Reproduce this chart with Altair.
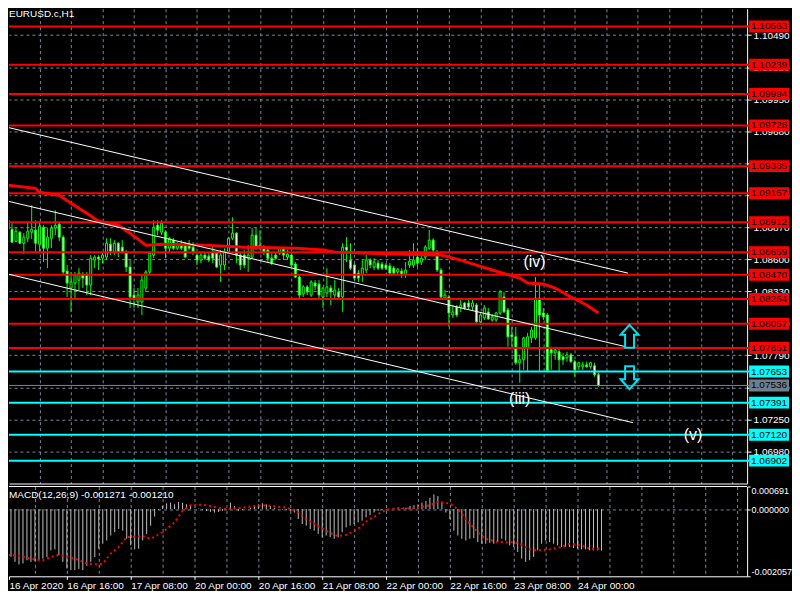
import altair as alt
import pandas as pd

FONT = "Liberation Sans"
GRID = "#778899"
GREEN = "#00FF00"

symbol_title = "EURUSD.c,H1"
macd_title = "MACD(12,26,9) -0.001271 -0.001210"

opens = [1.08929, 1.08853, 1.08752, 1.08828, 1.08735, 1.08777, 1.08828, 1.08845, 1.08727, 1.08870,
         1.08693, 1.08777, 1.08862, 1.08895, 1.08786, 1.08500, 1.08357, 1.08399, 1.08424, 1.08467,
         1.08467, 1.08382, 1.08593, 1.08618, 1.08609, 1.08618, 1.08727, 1.08660, 1.08735, 1.08702,
         1.08651, 1.08534, 1.08298, 1.08240, 1.08240, 1.08357, 1.08492, 1.08635, 1.08887, 1.08828,
         1.08828, 1.08693, 1.08761, 1.08693, 1.08719, 1.08727, 1.08727, 1.08702, 1.08635, 1.08593,
         1.08635, 1.08626, 1.08660, 1.08651, 1.08551, 1.08551, 1.08660, 1.08777, 1.08820, 1.08635,
         1.08635, 1.08609, 1.08618, 1.08803, 1.08693, 1.08693, 1.08677, 1.08609, 1.08635, 1.08651,
         1.08693, 1.08618, 1.08635, 1.08559, 1.08450, 1.08307, 1.08366, 1.08298, 1.08399, 1.08391,
         1.08282, 1.08315, 1.08357, 1.08298, 1.08324, 1.08282, 1.08702, 1.08593, 1.08551, 1.08483,
         1.08467, 1.08509, 1.08593, 1.08534, 1.08567, 1.08559, 1.08551, 1.08542, 1.08525, 1.08492,
         1.08500, 1.08467, 1.08551, 1.08551, 1.08618, 1.08576, 1.08618, 1.08693, 1.08761, 1.08651,
         1.08509, 1.08273, 1.08282, 1.08130, 1.08198, 1.08189, 1.08231, 1.08231, 1.08198, 1.08214,
         1.08072, 1.08105, 1.08156, 1.08088, 1.08088, 1.08147, 1.08282, 1.08172, 1.07962, 1.07946,
         1.07727, 1.07752, 1.07853, 1.07937, 1.07937, 1.08273, 1.08147, 1.08130, 1.07836, 1.07811,
         1.07820, 1.07778, 1.07769, 1.07794, 1.07736, 1.07694, 1.07694, 1.07710, 1.07694, 1.07702,
         1.07626]
highs = [1.09030, 1.08904, 1.08870, 1.08836, 1.08820, 1.08920, 1.09055, 1.08929, 1.08920, 1.08887,
         1.08862, 1.08887, 1.09013, 1.08912, 1.08803, 1.08551, 1.08492, 1.08492, 1.08525, 1.08492,
         1.08492, 1.08635, 1.08635, 1.08635, 1.08660, 1.08777, 1.08777, 1.08761, 1.08744, 1.08761,
         1.08677, 1.08593, 1.08357, 1.08357, 1.08467, 1.08509, 1.08660, 1.08929, 1.08929, 1.08929,
         1.08845, 1.08786, 1.08777, 1.08744, 1.08761, 1.08744, 1.08761, 1.08744, 1.08651, 1.08660,
         1.08660, 1.08651, 1.08702, 1.08660, 1.08677, 1.08693, 1.08786, 1.08954, 1.08828, 1.08660,
         1.08677, 1.08719, 1.08862, 1.08862, 1.08845, 1.08719, 1.08702, 1.08651, 1.08660, 1.08702,
         1.08702, 1.08677, 1.08651, 1.08576, 1.08467, 1.08382, 1.08382, 1.08424, 1.08424, 1.08424,
         1.08366, 1.08525, 1.08382, 1.08424, 1.08357, 1.08735, 1.08786, 1.08735, 1.08567, 1.08509,
         1.08593, 1.08635, 1.08609, 1.08609, 1.08593, 1.08576, 1.08567, 1.08567, 1.08542, 1.08525,
         1.08525, 1.08576, 1.08677, 1.08735, 1.08693, 1.08651, 1.08719, 1.08845, 1.08777, 1.08677,
         1.08525, 1.08340, 1.08298, 1.08214, 1.08214, 1.08256, 1.08240, 1.08256, 1.08256, 1.08231,
         1.08156, 1.08214, 1.08189, 1.08139, 1.08156, 1.08340, 1.08324, 1.08189, 1.08030, 1.08030,
         1.07794, 1.07946, 1.07979, 1.08030, 1.08450, 1.08382, 1.08189, 1.08147, 1.07862, 1.07862,
         1.07853, 1.07811, 1.07820, 1.07811, 1.07752, 1.07736, 1.07736, 1.07736, 1.07736, 1.07727,
         1.07643]
lows = [1.08845, 1.08735, 1.08744, 1.08727, 1.08643, 1.08744, 1.08769, 1.08660, 1.08651, 1.08576,
        1.08525, 1.08693, 1.08803, 1.08752, 1.08467, 1.08282, 1.08156, 1.08273, 1.08340, 1.08357,
        1.08298, 1.08298, 1.08525, 1.08509, 1.08567, 1.08593, 1.08635, 1.08635, 1.08618, 1.08651,
        1.08492, 1.08189, 1.08189, 1.08189, 1.08130, 1.08324, 1.08467, 1.08609, 1.08803, 1.08803,
        1.08609, 1.08660, 1.08677, 1.08677, 1.08677, 1.08609, 1.08677, 1.08635, 1.08551, 1.08567,
        1.08593, 1.08576, 1.08567, 1.08525, 1.08408, 1.08509, 1.08651, 1.08761, 1.08567, 1.08509,
        1.08525, 1.08492, 1.08609, 1.08677, 1.08677, 1.08635, 1.08576, 1.08551, 1.08593, 1.08635,
        1.08593, 1.08593, 1.08534, 1.08441, 1.08256, 1.08282, 1.08298, 1.08282, 1.08340, 1.08256,
        1.08189, 1.08282, 1.08214, 1.08256, 1.08256, 1.08156, 1.08576, 1.08509, 1.08424, 1.08408,
        1.08408, 1.08483, 1.08525, 1.08509, 1.08509, 1.08509, 1.08509, 1.08467, 1.08467, 1.08467,
        1.08441, 1.08441, 1.08525, 1.08525, 1.08534, 1.08551, 1.08593, 1.08677, 1.08651, 1.08492,
        1.08273, 1.08256, 1.08030, 1.08105, 1.08114, 1.08156, 1.08172, 1.08172, 1.08172, 1.08063,
        1.08046, 1.08088, 1.08088, 1.08072, 1.08072, 1.08130, 1.08147, 1.07862, 1.07862, 1.07710,
        1.07559, 1.07668, 1.07652, 1.07895, 1.07920, 1.07652, 1.08088, 1.07652, 1.07668, 1.07752,
        1.07652, 1.07710, 1.07736, 1.07727, 1.07610, 1.07668, 1.07668, 1.07685, 1.07677, 1.07610,
        1.07525]
closes = [1.08853, 1.08744, 1.08836, 1.08735, 1.08786, 1.08836, 1.08853, 1.08735, 1.08878, 1.08693,
          1.08786, 1.08862, 1.08887, 1.08786, 1.08492, 1.08399, 1.08408, 1.08467, 1.08483, 1.08441,
          1.08382, 1.08609, 1.08618, 1.08601, 1.08635, 1.08735, 1.08668, 1.08735, 1.08660, 1.08660,
          1.08534, 1.08282, 1.08273, 1.08298, 1.08424, 1.08492, 1.08651, 1.08870, 1.08845, 1.08904,
          1.08693, 1.08777, 1.08693, 1.08719, 1.08693, 1.08618, 1.08693, 1.08660, 1.08593, 1.08635,
          1.08609, 1.08593, 1.08609, 1.08534, 1.08635, 1.08660, 1.08777, 1.08820, 1.08635, 1.08551,
          1.08551, 1.08635, 1.08803, 1.08702, 1.08719, 1.08660, 1.08609, 1.08567, 1.08609, 1.08693,
          1.08635, 1.08643, 1.08551, 1.08450, 1.08298, 1.08366, 1.08324, 1.08408, 1.08374, 1.08298,
          1.08357, 1.08366, 1.08324, 1.08340, 1.08282, 1.08702, 1.08677, 1.08525, 1.08441, 1.08441,
          1.08525, 1.08593, 1.08551, 1.08576, 1.08525, 1.08525, 1.08525, 1.08483, 1.08483, 1.08517,
          1.08467, 1.08509, 1.08584, 1.08593, 1.08567, 1.08609, 1.08702, 1.08761, 1.08677, 1.08509,
          1.08282, 1.08298, 1.08147, 1.08156, 1.08130, 1.08214, 1.08189, 1.08198, 1.08231, 1.08072,
          1.08130, 1.08189, 1.08097, 1.08114, 1.08147, 1.08324, 1.08156, 1.07946, 1.07946, 1.07727,
          1.07752, 1.07937, 1.07946, 1.08004, 1.08273, 1.08130, 1.08114, 1.07660, 1.07811, 1.07836,
          1.07752, 1.07752, 1.07794, 1.07736, 1.07668, 1.07727, 1.07710, 1.07694, 1.07727, 1.07626,
          1.07536]

ma_bars = [0, 7, 8, 13, 16, 20, 23, 28, 31, 34, 35, 39, 50, 60, 73, 80, 83, 92, 100, 110,
           115, 119, 123, 130, 132, 136, 139, 143, 147, 150]
ma_values = [1.09223, 1.09198, 1.09164, 1.09139, 1.09072, 1.08988, 1.08920, 1.08887, 1.08820, 1.08744,
             1.08719, 1.08727, 1.08719, 1.08702, 1.08693, 1.08677, 1.08660, 1.08651, 1.08643, 1.08635,
             1.08593, 1.08551, 1.08509, 1.08441, 1.08399, 1.08391, 1.08357, 1.08282, 1.08214, 1.08147]

red_levels = [1.10563, 1.10239, 1.09994, 1.09728, 1.09385, 1.09157, 1.08912, 1.08659, 1.08470,
              1.08264, 1.08057, 1.07851]
cyan_levels = [1.07653, 1.07391, 1.07120, 1.06902]
bid_price = 1.07536

trend_names = ["upper", "upper", "middle", "middle", "lower", "lower"]
trend_bars = [0, 157.5, 0, 157, 0, 158.75]
trend_prices = [1.09711, 1.08483, 1.09089, 1.07862, 1.08475, 1.07222]

wave_texts = ["(iv)", "(iii)", "(v)"]
wave_bars = [133.75, 130, 174]
wave_prices = [1.08576, 1.07424, 1.07117]

arrow_bars = [157.9, 157.9]
arrow_prices = [1.07950, 1.07601]
arrow_paths = ["M0,-1L0.78,-0.13L0.39,-0.13L0.39,1L-0.39,1L-0.39,-0.13L-0.78,-0.13Z",
               "M0,1L0.78,0.13L0.39,0.13L0.39,-1L-0.39,-1L-0.39,0.13L-0.78,0.13Z"]

price_ticks = [1.06980, 1.07250, 1.07520, 1.07790, 1.08060, 1.08330, 1.08600, 1.08870,
               1.09140, 1.09410, 1.09680, 1.09950, 1.10220, 1.10490]

x_labels = ["16 Apr 2020", "16 Apr 16:00", "17 Apr 08:00", "20 Apr 00:00", "20 Apr 16:00",
            "21 Apr 08:00", "22 Apr 00:00", "22 Apr 16:00", "23 Apr 08:00", "24 Apr 00:00"]

macd_hist = [-0.001363, -0.001394, -0.001464, -0.001615, -0.001696, -0.001665, -0.001565, -0.001615, -0.001595, -0.001565,
             -0.001515, -0.001464, -0.001263, -0.001233, -0.001414, -0.001615, -0.001817, -0.001867, -0.001867, -0.001837,
             -0.001867, -0.001736, -0.001615, -0.001464, -0.001212, -0.001061, -0.000961, -0.000810, -0.000709, -0.000608,
             -0.000659, -0.000910, -0.001112, -0.001233, -0.001212, -0.000961, -0.000759, -0.000508, -0.000226, -0.000024,
             0.000097, 0.000177, 0.000197, 0.000147, 0.000218, 0.000197, 0.000147, 0.000097, -0.000004, 0.000016,
             -0.000024, -0.000054, -0.000085, -0.000105, -0.000085, -0.000054, -0.000004, 0.000197, 0.000097, -0.000054,
             -0.000024, -0.000004, 0.000046, 0.000097, 0.000147, 0.000177, 0.000147, 0.000097, 0.000046, -0.000004,
             -0.000024, -0.000024, -0.000054, -0.000105, -0.000306, -0.000457, -0.000508, -0.000608, -0.000659, -0.000759,
             -0.000860, -0.000810, -0.000860, -0.000910, -0.000860, -0.000709, -0.000558, -0.000508, -0.000457, -0.000407,
             -0.000356, -0.000256, -0.000185, -0.000105, -0.000054, -0.000024, -0.000004, -0.000004, 0.000016, 0.000016,
             0.000026, 0.000046, 0.000097, 0.000117, 0.000147, 0.000197, 0.000248, 0.000348, 0.000449, 0.000399,
             0.000197, -0.000105, -0.000306, -0.000659, -0.000810, -0.000910, -0.000961, -0.000910, -0.000890, -0.001011,
             -0.001061, -0.001061, -0.001031, -0.001061, -0.001011, -0.000910, -0.000961, -0.001112, -0.001162, -0.001313,
             -0.001515, -0.001615, -0.001565, -0.001464, -0.001263, -0.001061, -0.000961, -0.001011, -0.001061, -0.001112,
             -0.001162, -0.001162, -0.001162, -0.001192, -0.001212, -0.001233, -0.001233, -0.001263, -0.001263, -0.001263,
             -0.001271]

signal_bars = [0, 4, 8, 10, 12, 14, 16, 19, 21, 24, 25, 27, 29, 31, 35, 37, 40, 43, 45, 47,
               50, 54, 56, 60, 63, 66, 71, 73, 76, 80, 82, 84, 86, 89, 91, 94, 96, 99, 102, 104,
               107, 109, 112, 114, 116, 119, 121, 124, 128, 130, 132, 135, 137, 140, 142, 145, 147, 150]
signal_values = [-0.001384, -0.001434, -0.001545, -0.001565, -0.001464, -0.001404, -0.001444, -0.001565, -0.001666, -0.001696,
                 -0.001666, -0.001363, -0.001162, -0.000860, -0.000830, -0.000910, -0.000709, -0.000407, -0.000054, 0.000117,
                 0.000137, 0.000046, -0.000004, 0.000046, 0.000097, 0.000117, 0.000046, -0.000024, -0.000306, -0.000588,
                 -0.000729, -0.000830, -0.000790, -0.000608, -0.000387, -0.000155, -0.000024, 0.000036, 0.000016, 0.000046,
                 0.000117, 0.000218, 0.000177, -0.000004, -0.000306, -0.000709, -0.000910, -0.001011, -0.001011, -0.001092,
                 -0.001233, -0.001263, -0.001233, -0.001162, -0.001061, -0.001112, -0.001212, -0.001210]
macd_ticks = [-0.002057, 0.0, 0.000691]

# ---------------- tables ----------------
candles = pd.DataFrame({"bar": list(range(len(closes))), "open": opens, "high": highs,
                        "low": lows, "close": closes})
candles["body"] = ["#000000" if c >= o else "#FFFFFF" for o, c in zip(opens, closes)]

levels = pd.DataFrame({
    "price": red_levels + cyan_levels + [bid_price],
    "line": ["#FF0000"] * len(red_levels) + ["#00FFFF"] * len(cyan_levels) + ["#778899"],
    "box": ["#FF0000"] * len(red_levels) + ["#00FFFF"] * len(cyan_levels) + ["#6E7F90"],
    "width": [2] * (len(red_levels) + len(cyan_levels)) + [1],
})
levels["label"] = [f"{p:.5f}" for p in levels["price"]]

ma = pd.DataFrame({"bar": ma_bars, "price": ma_values})
trends = pd.DataFrame({"name": trend_names, "bar": trend_bars, "price": trend_prices})
waves = pd.DataFrame({"text": wave_texts, "bar": wave_bars, "price": wave_prices})
arrows = pd.DataFrame({"bar": arrow_bars, "price": arrow_prices, "path": arrow_paths})
macd_df = pd.DataFrame({"bar": list(range(len(macd_hist))), "macd": macd_hist, "zero": 0.0})
signal_df = pd.DataFrame({"bar": signal_bars, "signal": signal_values})

# ---------------- scales / axes ----------------
W, H_MAIN, H_MACD = 740, 476, 90
xscale = alt.Scale(domain=[1.5, 186.5], nice=False, zero=False)
yscale = alt.Scale(domain=[1.06709, 1.10712], nice=False, zero=False)
mscale = alt.Scale(domain=[macd_ticks[0], macd_ticks[2]], nice=False, zero=False)

grid_vals = list(range(8, 185, 8))
main_x_axis = alt.Axis(values=grid_vals, labels=False, ticks=False, domain=True, domainColor="white",
                       grid=True, gridColor=GRID, gridDash=[3, 3], gridWidth=1, title=None, zindex=0)
main_y_axis = alt.Axis(orient="right", values=price_ticks, format=".5f", labelColor="white",
                       labelFont=FONT, labelFontSize=10, tickColor="white", tickSize=4, labelPadding=2,
                       domainColor="white", grid=True, gridColor=GRID, gridDash=[3, 3], title=None,
                       zindex=0)

labels_js = "[" + ",".join(f"'{s}'" for s in x_labels) + "]"
last_lab = 16 * (len(x_labels) - 1)
lab_test = f"(datum.value % 16 == 0 && datum.value <= {last_lab})"
macd_x_axis = alt.Axis(
    values=[1.5] + grid_vals, title=None, domain=True, domainColor="white",
    labelExpr=f"datum.value < 2 ? '{x_labels[0]}' : ({lab_test} ? {labels_js}[datum.value/16] : '')",
    labelAlign="left", labelBaseline="top", labelColor="white", labelFont=FONT, labelFontSize=10,
    labelPadding=1, labelFlush=False, labelOverlap=False,
    tickColor="white", tickSize=3,
    tickOpacity={"condition": {"test": f"datum.value < 2 || {lab_test}", "value": 1}, "value": 0},
    grid=True, gridColor=GRID, gridDash=[3, 3],
    gridOpacity={"condition": {"test": "datum.value < 2", "value": 0}, "value": 1},
    zindex=0,
)
macd_y_axis = alt.Axis(
    orient="right", values=macd_ticks, title=None, labelColor="white", labelFont=FONT, labelFontSize=9,
    labelExpr="datum.value < 0 ? '-' + format(-datum.value, '.6f') : format(datum.value, '.6f')",
    labelFlush=True, tickColor="white", tickSize=3, labelPadding=1, domainColor="white",
    grid=True, gridColor=GRID, gridDash=[3, 3],
    gridOpacity={"condition": {"test": "datum.value == 0", "value": 1}, "value": 0},
    zindex=0,
)


def X(field):
    return alt.X(f"{field}:Q", scale=xscale, axis=main_x_axis)


def Y(field):
    return alt.Y(f"{field}:Q", scale=yscale, axis=main_y_axis)


def XM(field):
    return alt.X(f"{field}:Q", scale=xscale, axis=macd_x_axis)


def YM(field):
    return alt.Y(f"{field}:Q", scale=mscale, axis=macd_y_axis)


# ---------------- main panel ----------------
wicks = alt.Chart(candles).mark_rule(color=GREEN, strokeWidth=1, clip=True).encode(
    x=X("bar"), y=Y("low"), y2="high")
bodies = alt.Chart(candles).mark_bar(size=2, stroke=GREEN, strokeWidth=1, clip=True).encode(
    x=X("bar"), y=Y("open"), y2="close", fill=alt.Color("body:N", scale=None))
level_lines = alt.Chart(levels).mark_rule().encode(
    y=Y("price"), x=alt.value(0), x2=alt.value(742),
    color=alt.Color("line:N", scale=None), strokeWidth=alt.StrokeWidth("width:Q", scale=None))
ma_line = alt.Chart(ma).mark_line(color="#FF0000", strokeWidth=3, clip=True).encode(
    x=X("bar"), y=Y("price"))
trend_lines = alt.Chart(trends).mark_line(color="white", strokeWidth=1, clip=True).encode(
    x=X("bar"), y=Y("price"), detail="name:N")
wave_text = alt.Chart(waves).mark_text(font=FONT, fontSize=16, color="white", baseline="middle").encode(
    x=X("bar"), y=Y("price"), text="text:N")
arrow_marks = alt.Chart(arrows).mark_point(filled=False, size=529, strokeWidth=2, color="#00E0F0", opacity=1).encode(
    x=X("bar"), y=Y("price"), shape=alt.Shape("path:N", scale=None))
boxes = alt.Chart(levels).mark_tick(orient="horizontal", size=40, thickness=12, opacity=1).encode(
    x=alt.value(762), y=Y("price"), color=alt.Color("box:N", scale=None))
box_text = alt.Chart(levels).mark_text(font=FONT, fontSize=10, color="#000000", align="center",
                                       baseline="middle").encode(
    x=alt.value(762), y=Y("price"), text="label:N")
title_text = alt.Chart(pd.DataFrame({"t": [symbol_title]})).mark_text(
    font=FONT, fontSize=10, color="white", align="left", baseline="middle").encode(
    x=alt.value(0), y=alt.value(5), text="t:N")

main = alt.layer(wicks, bodies, level_lines, ma_line, trend_lines, wave_text, arrow_marks,
                 boxes, box_text, title_text).properties(width=W, height=H_MAIN)

# ---------------- MACD panel ----------------
hist = alt.Chart(macd_df).mark_rule(color="#C0C0C0", strokeWidth=1, clip=True).encode(
    x=XM("bar"), y=YM("zero"), y2="macd")
sig = alt.Chart(signal_df).mark_line(color="#FF0000", strokeWidth=2, strokeDash=[2, 3], clip=True).encode(
    x=XM("bar"), y=YM("signal"))
top_border = alt.Chart(pd.DataFrame({"t": [0]})).mark_rule(color="white", strokeWidth=1).encode(
    x=alt.value(0), x2=alt.value(W), y=alt.value(0))
macd_text = alt.Chart(pd.DataFrame({"t": [macd_title]})).mark_text(
    font=FONT, fontSize=10, color="white", align="left", baseline="middle").encode(
    x=alt.value(0), y=alt.value(9), text="t:N")

macd = alt.layer(hist, sig, top_border, macd_text).properties(width=W, height=H_MACD)

chart = alt.vconcat(main, macd, spacing=2).properties(
    background="black", padding=0
).configure_view(strokeWidth=0)

chart.save("out.html", embed_options={"renderer": "svg", "actions": False})
